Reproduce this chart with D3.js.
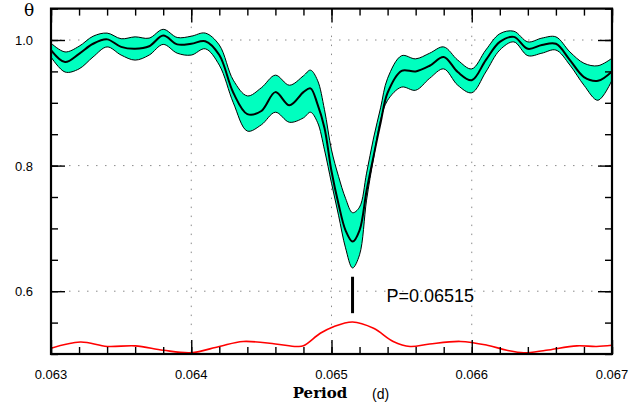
<!DOCTYPE html>
<html><head><meta charset="utf-8">
<script src="https://cdn.jsdelivr.net/npm/d3@7"></script>
<style>html,body{margin:0;padding:0;background:#fff}svg{display:block}</style>
</head><body>
<svg id="c" width="644" height="409"></svg>
<script>
// ---- data ----
const periods = [0.0630,0.0631,0.0632,0.0633,0.0634,0.0635,0.0636,0.0637,0.0638,0.0639,
  0.0640,0.0641,0.0642,0.0643,0.0644,0.0645,0.0646,0.0647,0.0648,0.06485,0.0649,0.06495,
  0.0650,0.06505,0.0651,0.06515,0.0652,0.06525,0.0653,0.06535,0.0654,0.0655,0.0656,0.0657,
  0.0658,0.0659,0.0660,0.0661,0.0662,0.0663,0.0664,0.0665,0.0666,0.0667,0.0668,0.0669,0.0670];
const thetaMean = [0.984,0.965,0.978,0.994,1.001,0.989,0.986,0.990,1.007,0.993,
  0.994,0.998,0.976,0.916,0.882,0.887,0.917,0.896,0.917,0.923,0.898,0.860,
  0.791,0.739,0.697,0.679,0.697,0.760,0.815,0.868,0.916,0.951,0.950,0.959,
  0.973,0.949,0.936,0.968,0.997,1.005,0.986,0.992,0.994,0.968,0.941,0.935,0.950];
const thetaUpper = [0.995,0.981,0.990,1.006,1.011,1.002,1.005,1.003,1.017,1.004,
  1.006,1.011,0.992,0.936,0.911,0.924,0.944,0.928,0.943,0.952,0.936,0.889,
  0.825,0.783,0.748,0.725,0.734,0.788,0.844,0.892,0.939,0.975,0.970,0.979,
  0.989,0.968,0.954,0.984,1.010,1.014,0.997,1.003,1.005,0.981,0.963,0.959,0.971];
const thetaLower = [0.973,0.949,0.954,0.973,0.989,0.976,0.968,0.976,0.993,0.979,
  0.976,0.986,0.960,0.900,0.855,0.865,0.885,0.869,0.876,0.885,0.869,0.825,
  0.772,0.721,0.669,0.637,0.658,0.745,0.812,0.873,0.904,0.925,0.920,0.939,
  0.954,0.928,0.916,0.949,0.984,0.997,0.975,0.979,0.984,0.960,0.928,0.904,0.936];
const windowPeriods = [0.06300,0.06321,0.06340,0.06360,0.06380,0.06400,0.06420,0.06437,0.06460,
  0.06475,0.06480,0.06492,0.06501,0.06515,0.06530,0.06544,0.06556,0.06570,0.06592,0.06611,
  0.06625,0.06637,0.06653,0.06675,0.06689,0.06700];
const windowValues = [0.509,0.519,0.512,0.513,0.506,0.502,0.512,0.520,0.516,
  0.512,0.513,0.533,0.543,0.551,0.541,0.520,0.512,0.516,0.520,0.514,
  0.506,0.502,0.506,0.513,0.512,0.514];
const xTickLabels = ["0.063","0.064","0.065","0.066","0.067"];
const yTickLabels = ["0.6","0.8","1.0"];
const bestPeriod = 0.06515;
const markerRange = [0.565, 0.623];
const bestLabel = "P=0.06515";

// ---- layout ----
const svg = d3.select("#c");
const L = 51, R = 612, T = 8.6, B = 354;
const x = d3.scaleLinear().domain([0.063, 0.067]).range([L, R]);
const y = d3.scaleLinear().domain([0.5, 1.05]).range([B, T]);

// grid
const grid = svg.append("g").attr("stroke", "#8a8a8a").attr("stroke-width", 1)
  .attr("stroke-dasharray", "1.5,7.5");
xTickLabels.map(Number).slice(1, -1).forEach(v => {
  grid.append("line").attr("x1", x(v)).attr("x2", x(v)).attr("y1", T).attr("y2", B);
});
yTickLabels.map(Number).forEach(v => {
  grid.append("line").attr("x1", L).attr("x2", R).attr("y1", y(v)).attr("y2", y(v));
});

// clip
svg.append("clipPath").attr("id", "clip").append("rect")
  .attr("x", L).attr("y", T).attr("width", R - L).attr("height", B - T);
const plot = svg.append("g").attr("clip-path", "url(#clip)");

const rows = periods.map((p, i) => ({p, m: thetaMean[i], u: thetaUpper[i], l: thetaLower[i]}));
const curve = d3.curveCatmullRom.alpha(0.5);
plot.append("path").datum(rows)
  .attr("d", d3.area().x(d => x(d.p)).y0(d => y(d.l)).y1(d => y(d.u)).curve(curve))
  .attr("fill", "#00ffbf").attr("stroke", "#000").attr("stroke-width", 1);
plot.append("path").datum(rows)
  .attr("d", d3.line().x(d => x(d.p)).y(d => y(d.m)).curve(curve))
  .attr("fill", "none").attr("stroke", "#000").attr("stroke-width", 2);

const win = windowPeriods.map((p, i) => ({p, v: windowValues[i]}));
plot.append("path").datum(win)
  .attr("d", d3.line().x(d => x(d.p)).y(d => y(d.v)).curve(d3.curveCatmullRom.alpha(0.5)))
  .attr("fill", "none").attr("stroke", "#ff0000").attr("stroke-width", 1.6);

// marker
svg.append("line").attr("x1", x(bestPeriod)).attr("x2", x(bestPeriod))
  .attr("y1", y(markerRange[1])).attr("y2", y(markerRange[0]))
  .attr("stroke", "#000").attr("stroke-width", 3);
svg.append("text").attr("x", x(bestPeriod) + 34).attr("y", y((markerRange[0] + markerRange[1]) / 2) + 7)
  .attr("font-family", "Liberation Sans, Arial, sans-serif").attr("font-size", 18)
  .text(bestLabel);

// axes (ticks inward)
const xMinor = d3.range(0.063, 0.06701, 0.0002);
const yMinor = d3.range(0.5, 1.0501, 0.05);
const axisStyle = g => {
  g.select(".domain").remove();
  g.selectAll(".tick line").attr("stroke", "#000").attr("stroke-width", 1.4);
  g.selectAll(".tick text").remove();
};
svg.append("g").attr("transform", `translate(0,${B})`)
  .call(d3.axisTop(x).tickValues(xMinor).tickSize(7)).call(axisStyle);
svg.append("g").attr("transform", `translate(0,${B})`)
  .call(d3.axisTop(x).tickValues(xTickLabels.map(Number)).tickSize(14)).call(axisStyle);
svg.append("g").attr("transform", `translate(0,${T})`)
  .call(d3.axisBottom(x).tickValues(xMinor).tickSize(7)).call(axisStyle);
svg.append("g").attr("transform", `translate(0,${T})`)
  .call(d3.axisBottom(x).tickValues(xTickLabels.map(Number)).tickSize(14)).call(axisStyle);
svg.append("g").attr("transform", `translate(${L},0)`)
  .call(d3.axisRight(y).tickValues(yMinor).tickSize(7)).call(axisStyle);
svg.append("g").attr("transform", `translate(${L},0)`)
  .call(d3.axisRight(y).tickValues(yTickLabels.map(Number)).tickSize(14)).call(axisStyle);
svg.append("g").attr("transform", `translate(${R},0)`)
  .call(d3.axisLeft(y).tickValues(yMinor).tickSize(7)).call(axisStyle);
svg.append("g").attr("transform", `translate(${R},0)`)
  .call(d3.axisLeft(y).tickValues(yTickLabels.map(Number)).tickSize(14)).call(axisStyle);

// frame
svg.append("rect").attr("x", L).attr("y", T).attr("width", R - L).attr("height", B - T)
  .attr("fill", "none").attr("stroke", "#000").attr("stroke-width", 2.2);

// tick labels
const font = "Liberation Sans, Arial, sans-serif";
svg.append("g").selectAll("text").data(xTickLabels).join("text")
  .attr("x", d => x(+d)).attr("y", B + 25).attr("text-anchor", "middle")
  .attr("font-family", font).attr("font-size", 13).text(d => d);
svg.append("g").selectAll("text").data(yTickLabels).join("text")
  .attr("x", L - 18).attr("y", d => y(+d) + 5).attr("text-anchor", "end")
  .attr("font-family", font).attr("font-size", 13).text(d => d);

// axis titles
svg.append("text").attr("x", 29).attr("y", 16).attr("text-anchor", "middle")
  .attr("font-family", "DejaVu Serif, serif").attr("font-size", 17).text("θ");
svg.append("text").attr("x", 320).attr("y", 398).attr("text-anchor", "middle")
  .attr("font-family", "DejaVu Serif, serif").attr("font-weight", "bold").attr("font-size", 15)
  .text("Period");
svg.append("text").attr("x", 372).attr("y", 399)
  .attr("font-family", font).attr("font-size", 14).text("(d)");
</script>
</body></html>
